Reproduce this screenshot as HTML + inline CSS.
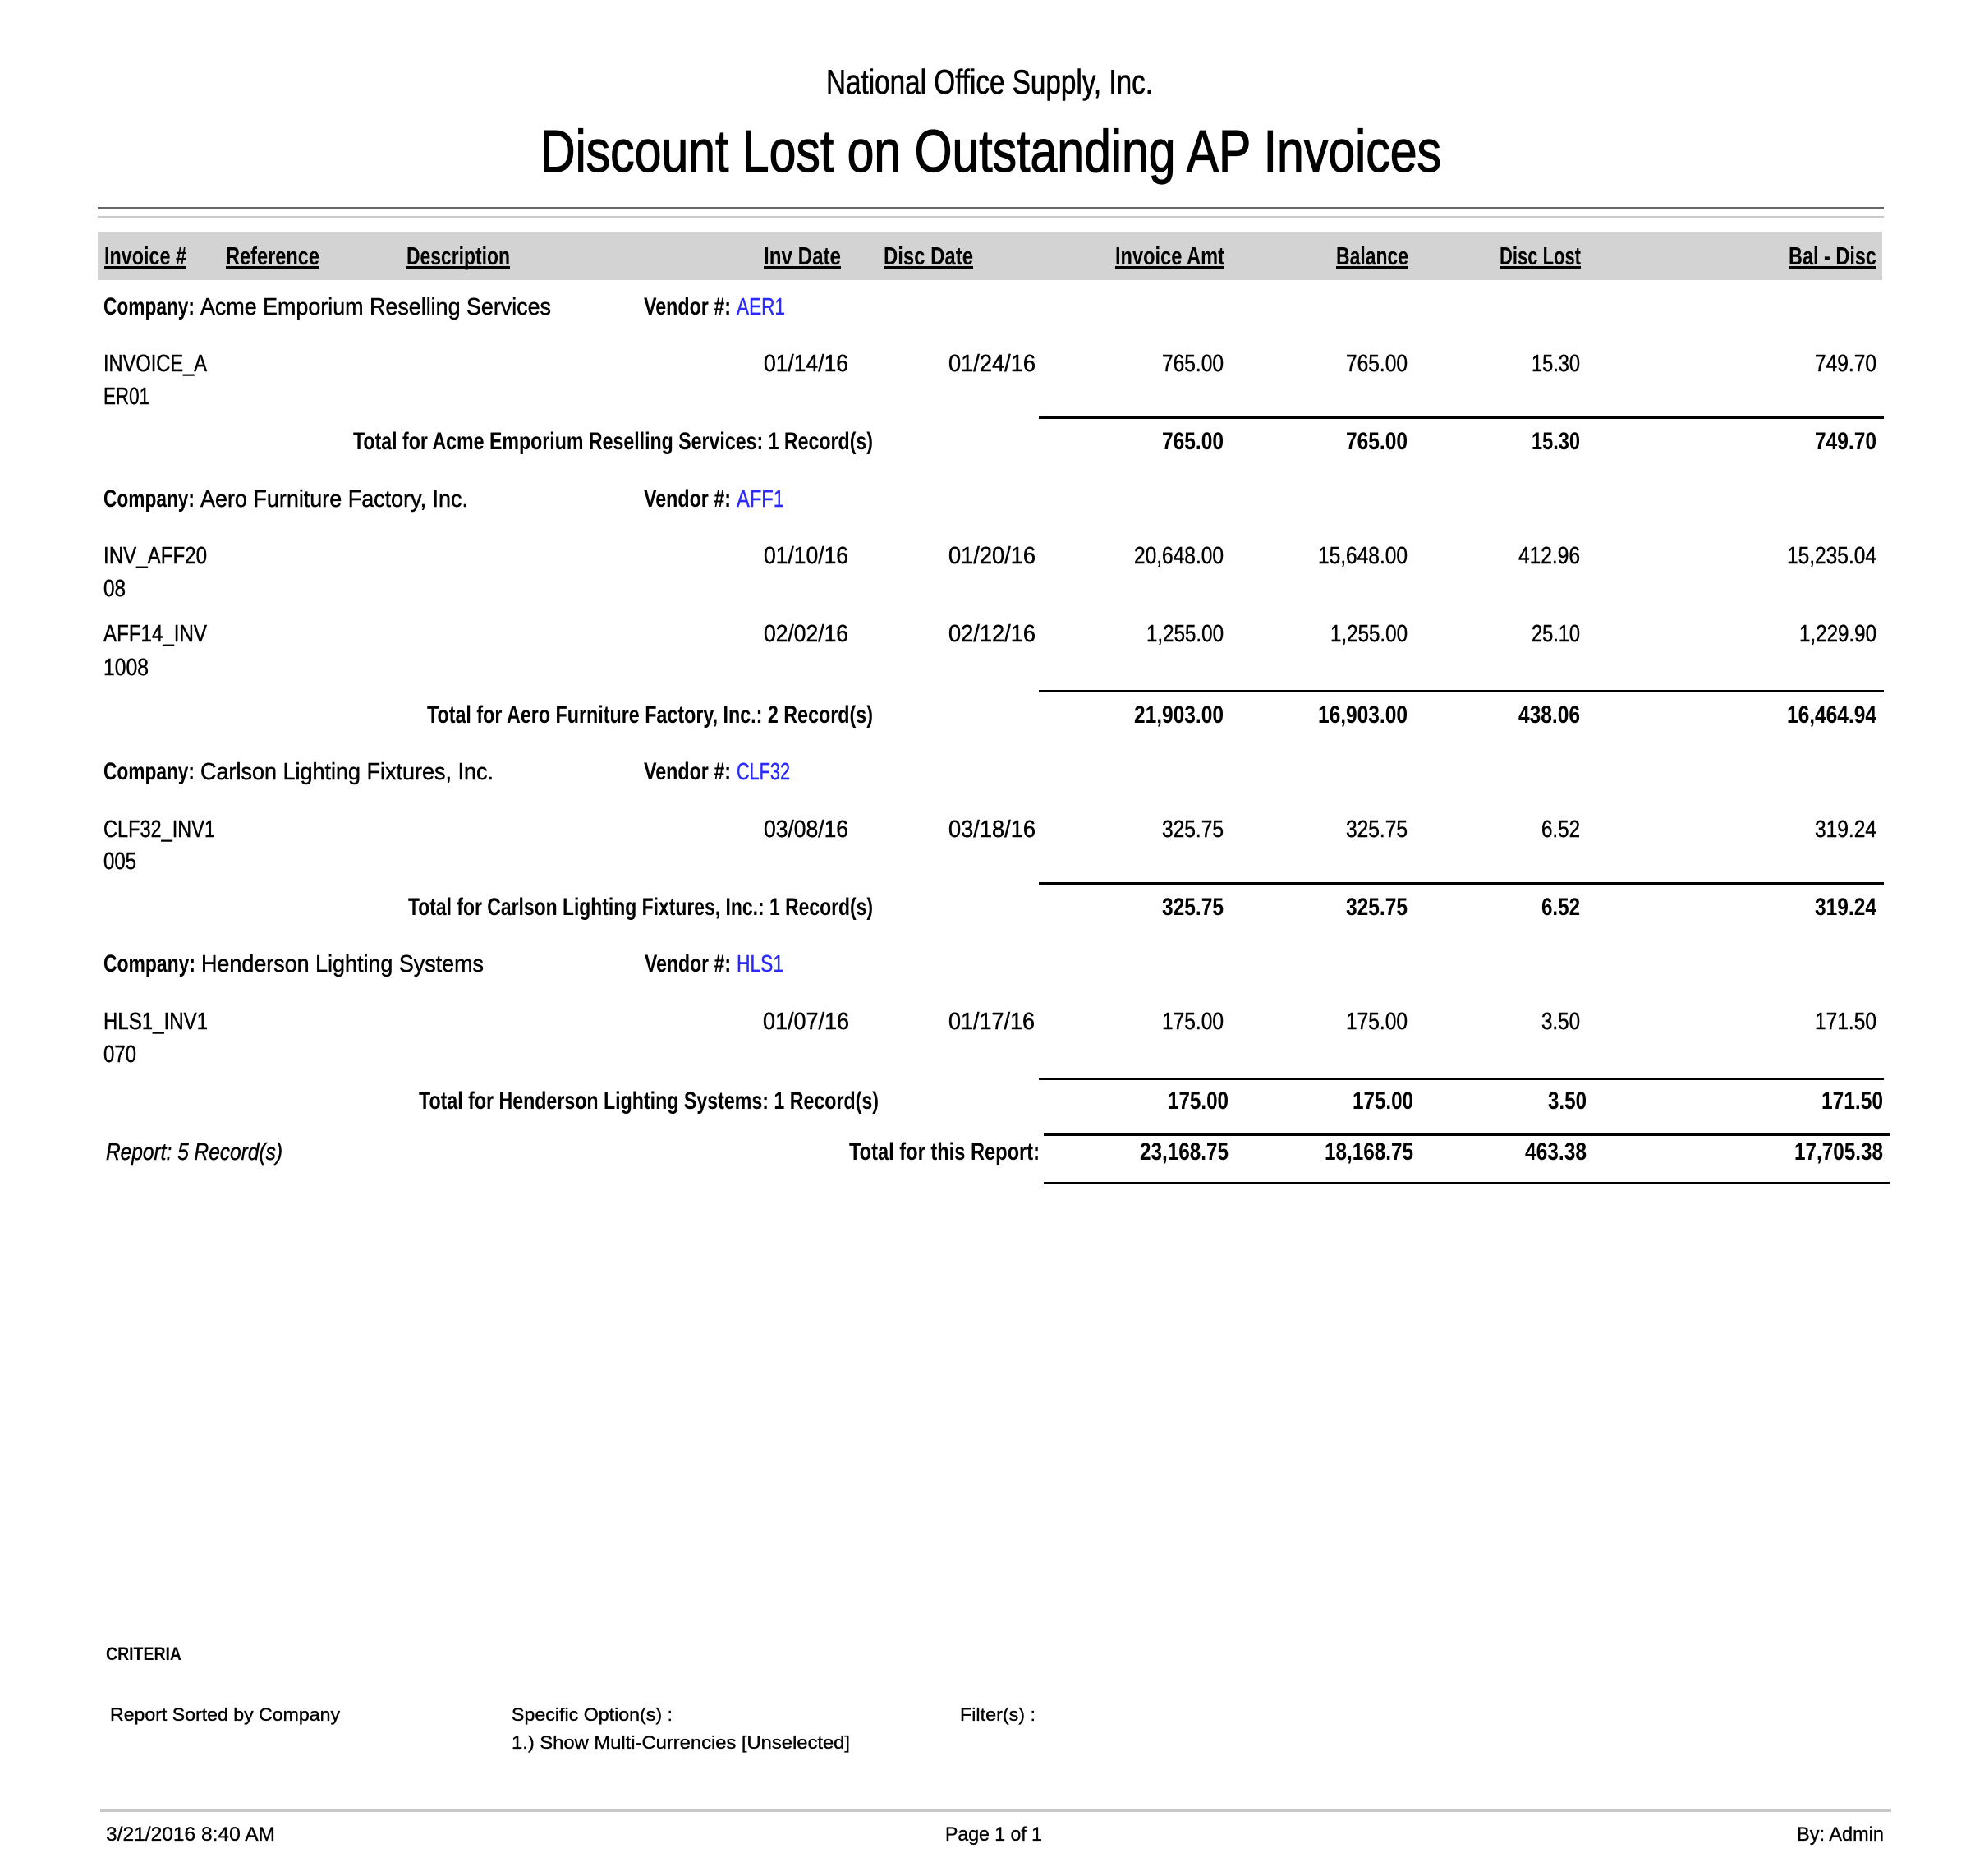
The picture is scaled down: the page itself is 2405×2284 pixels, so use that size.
<!DOCTYPE html>
<html>
<head>
<meta charset="utf-8">
<style>
  html,body{margin:0;padding:0;background:#fff;}
  svg{display:block;}
  text{font-family:"Liberation Sans",Arial,sans-serif;fill:#000;}
  .r{font-size:29px;stroke:#000;stroke-width:0.45px;}
  .b{font-size:30px;font-weight:bold;}
  .h{font-size:31px;font-weight:bold;}
  .v{font-size:29px;fill:#2a2aff;stroke:#2a2aff;stroke-width:0.45px;}
  .f{font-size:22px;stroke:#000;stroke-width:0.35px;}
  .fb{font-size:22px;font-weight:bold;}
  .ft{font-size:24px;stroke:#000;stroke-width:0.35px;}
  .t1{font-size:42px;stroke:#000;stroke-width:0.6px;}
  .t2{font-size:72px;stroke:#000;stroke-width:1.2px;}
</style>
</head>
<body>
<svg width="2405" height="2284" viewBox="0 0 2405 2284" xmlns="http://www.w3.org/2000/svg">
  <rect x="0" y="0" width="2405" height="2284" fill="#fff"/>

  <!-- Titles -->
  <text class="t1" x="1006" y="114" textLength="398" lengthAdjust="spacingAndGlyphs">National Office Supply, Inc.</text>
  <text class="t2" x="658" y="209" textLength="1097" lengthAdjust="spacingAndGlyphs">Discount Lost on Outstanding AP Invoices</text>

  <!-- Rules -->
  <rect x="119" y="252" width="2175" height="3" fill="#666"/>
  <rect x="119" y="263" width="2175" height="3" fill="#cacaca"/>

  <!-- Header band -->
  <rect x="119" y="282" width="2173" height="59" fill="#d3d3d3"/>
  <g class="h">
    <text class="h" x="127" y="322" textLength="100" lengthAdjust="spacingAndGlyphs">Invoice #</text>
    <text class="h" x="275" y="322" textLength="114" lengthAdjust="spacingAndGlyphs">Reference</text>
    <text class="h" x="495" y="322" textLength="126" lengthAdjust="spacingAndGlyphs">Description</text>
    <text class="h" x="930" y="322" textLength="94" lengthAdjust="spacingAndGlyphs">Inv Date</text>
    <text class="h" x="1076" y="322" textLength="109" lengthAdjust="spacingAndGlyphs">Disc Date</text>
    <text class="h" x="1358" y="322" textLength="133" lengthAdjust="spacingAndGlyphs">Invoice Amt</text>
    <text class="h" x="1627" y="322" textLength="88" lengthAdjust="spacingAndGlyphs">Balance</text>
    <text class="h" x="1826" y="322" textLength="99" lengthAdjust="spacingAndGlyphs">Disc Lost</text>
    <text class="h" x="2178" y="322" textLength="107" lengthAdjust="spacingAndGlyphs">Bal - Disc</text>
  </g>
  <g fill="#000">
    <rect x="127" y="324" width="100" height="3"/>
    <rect x="275" y="324" width="114" height="3"/>
    <rect x="495" y="324" width="126" height="3"/>
    <rect x="930" y="324" width="94" height="3"/>
    <rect x="1076" y="324" width="109" height="3"/>
    <rect x="1358" y="324" width="133" height="3"/>
    <rect x="1627" y="324" width="88" height="3"/>
    <rect x="1826" y="324" width="99" height="3"/>
    <rect x="2178" y="324" width="107" height="3"/>
  </g>

  <!-- ===== Acme ===== -->
  <text class="b" x="126" y="383" textLength="111" lengthAdjust="spacingAndGlyphs">Company:</text>
  <text class="r" x="244" y="383" textLength="427" lengthAdjust="spacingAndGlyphs">Acme Emporium Reselling Services</text>
  <text class="b" x="784" y="383" textLength="106" lengthAdjust="spacingAndGlyphs">Vendor #:</text>
  <text class="v" x="897" y="383" textLength="59" lengthAdjust="spacingAndGlyphs">AER1</text>

  <text class="r" x="126" y="452" textLength="126" lengthAdjust="spacingAndGlyphs">INVOICE_A</text>
  <text class="r" x="126" y="492" textLength="56" lengthAdjust="spacingAndGlyphs">ER01</text>
  <text class="r" x="930" y="452" textLength="103" lengthAdjust="spacingAndGlyphs">01/14/16</text>
  <text class="r" x="1155" y="452" textLength="106" lengthAdjust="spacingAndGlyphs">01/24/16</text>
  <g text-anchor="end">
    <text class="r" x="1490" y="452" textLength="75" lengthAdjust="spacingAndGlyphs">765.00</text>
    <text class="r" x="1714" y="452" textLength="75" lengthAdjust="spacingAndGlyphs">765.00</text>
    <text class="r" x="1924" y="452" textLength="59" lengthAdjust="spacingAndGlyphs">15.30</text>
    <text class="r" x="2285" y="452" textLength="75" lengthAdjust="spacingAndGlyphs">749.70</text>
  </g>
  <rect x="1265" y="507" width="1029" height="3" fill="#000"/>
  <text class="b" x="430" y="547" textLength="633" lengthAdjust="spacingAndGlyphs">Total for Acme Emporium Reselling Services: 1 Record(s)</text>
  <g text-anchor="end">
    <text class="b" x="1490" y="547" textLength="75" lengthAdjust="spacingAndGlyphs">765.00</text>
    <text class="b" x="1714" y="547" textLength="75" lengthAdjust="spacingAndGlyphs">765.00</text>
    <text class="b" x="1924" y="547" textLength="59" lengthAdjust="spacingAndGlyphs">15.30</text>
    <text class="b" x="2285" y="547" textLength="75" lengthAdjust="spacingAndGlyphs">749.70</text>
  </g>

  <!-- ===== Aero ===== -->
  <text class="b" x="126" y="617" textLength="111" lengthAdjust="spacingAndGlyphs">Company:</text>
  <text class="r" x="244" y="617" textLength="326" lengthAdjust="spacingAndGlyphs">Aero Furniture Factory, Inc.</text>
  <text class="b" x="784" y="617" textLength="106" lengthAdjust="spacingAndGlyphs">Vendor #:</text>
  <text class="v" x="897" y="617" textLength="58" lengthAdjust="spacingAndGlyphs">AFF1</text>

  <text class="r" x="126" y="686" textLength="126" lengthAdjust="spacingAndGlyphs">INV_AFF20</text>
  <text class="r" x="126" y="726" textLength="27" lengthAdjust="spacingAndGlyphs">08</text>
  <text class="r" x="930" y="686" textLength="103" lengthAdjust="spacingAndGlyphs">01/10/16</text>
  <text class="r" x="1155" y="686" textLength="106" lengthAdjust="spacingAndGlyphs">01/20/16</text>
  <g text-anchor="end">
    <text class="r" x="1490" y="686" textLength="109" lengthAdjust="spacingAndGlyphs">20,648.00</text>
    <text class="r" x="1714" y="686" textLength="109" lengthAdjust="spacingAndGlyphs">15,648.00</text>
    <text class="r" x="1924" y="686" textLength="75" lengthAdjust="spacingAndGlyphs">412.96</text>
    <text class="r" x="2285" y="686" textLength="109" lengthAdjust="spacingAndGlyphs">15,235.04</text>
  </g>

  <text class="r" x="126" y="781" textLength="126" lengthAdjust="spacingAndGlyphs">AFF14_INV</text>
  <text class="r" x="126" y="822" textLength="55" lengthAdjust="spacingAndGlyphs">1008</text>
  <text class="r" x="930" y="781" textLength="103" lengthAdjust="spacingAndGlyphs">02/02/16</text>
  <text class="r" x="1155" y="781" textLength="106" lengthAdjust="spacingAndGlyphs">02/12/16</text>
  <g text-anchor="end">
    <text class="r" x="1490" y="781" textLength="94" lengthAdjust="spacingAndGlyphs">1,255.00</text>
    <text class="r" x="1714" y="781" textLength="94" lengthAdjust="spacingAndGlyphs">1,255.00</text>
    <text class="r" x="1924" y="781" textLength="59" lengthAdjust="spacingAndGlyphs">25.10</text>
    <text class="r" x="2285" y="781" textLength="94" lengthAdjust="spacingAndGlyphs">1,229.90</text>
  </g>
  <rect x="1265" y="840" width="1029" height="3" fill="#000"/>
  <text class="b" x="520" y="880" textLength="543" lengthAdjust="spacingAndGlyphs">Total for Aero Furniture Factory, Inc.: 2 Record(s)</text>
  <g text-anchor="end">
    <text class="b" x="1490" y="880" textLength="109" lengthAdjust="spacingAndGlyphs">21,903.00</text>
    <text class="b" x="1714" y="880" textLength="109" lengthAdjust="spacingAndGlyphs">16,903.00</text>
    <text class="b" x="1924" y="880" textLength="75" lengthAdjust="spacingAndGlyphs">438.06</text>
    <text class="b" x="2285" y="880" textLength="109" lengthAdjust="spacingAndGlyphs">16,464.94</text>
  </g>

  <!-- ===== Carlson ===== -->
  <text class="b" x="126" y="949" textLength="111" lengthAdjust="spacingAndGlyphs">Company:</text>
  <text class="r" x="244" y="949" textLength="357" lengthAdjust="spacingAndGlyphs">Carlson Lighting Fixtures, Inc.</text>
  <text class="b" x="784" y="949" textLength="106" lengthAdjust="spacingAndGlyphs">Vendor #:</text>
  <text class="v" x="897" y="949" textLength="65" lengthAdjust="spacingAndGlyphs">CLF32</text>

  <text class="r" x="126" y="1019" textLength="136" lengthAdjust="spacingAndGlyphs">CLF32_INV1</text>
  <text class="r" x="126" y="1058" textLength="40" lengthAdjust="spacingAndGlyphs">005</text>
  <text class="r" x="930" y="1019" textLength="103" lengthAdjust="spacingAndGlyphs">03/08/16</text>
  <text class="r" x="1155" y="1019" textLength="106" lengthAdjust="spacingAndGlyphs">03/18/16</text>
  <g text-anchor="end">
    <text class="r" x="1490" y="1019" textLength="75" lengthAdjust="spacingAndGlyphs">325.75</text>
    <text class="r" x="1714" y="1019" textLength="75" lengthAdjust="spacingAndGlyphs">325.75</text>
    <text class="r" x="1924" y="1019" textLength="47" lengthAdjust="spacingAndGlyphs">6.52</text>
    <text class="r" x="2285" y="1019" textLength="75" lengthAdjust="spacingAndGlyphs">319.24</text>
  </g>
  <rect x="1265" y="1074" width="1029" height="3" fill="#000"/>
  <text class="b" x="497" y="1114" textLength="566" lengthAdjust="spacingAndGlyphs">Total for Carlson Lighting Fixtures, Inc.: 1 Record(s)</text>
  <g text-anchor="end">
    <text class="b" x="1490" y="1114" textLength="75" lengthAdjust="spacingAndGlyphs">325.75</text>
    <text class="b" x="1714" y="1114" textLength="75" lengthAdjust="spacingAndGlyphs">325.75</text>
    <text class="b" x="1924" y="1114" textLength="47" lengthAdjust="spacingAndGlyphs">6.52</text>
    <text class="b" x="2285" y="1114" textLength="75" lengthAdjust="spacingAndGlyphs">319.24</text>
  </g>

  <!-- ===== Henderson ===== -->
  <text class="b" x="126" y="1183" textLength="112" lengthAdjust="spacingAndGlyphs">Company:</text>
  <text class="r" x="245" y="1183" textLength="344" lengthAdjust="spacingAndGlyphs">Henderson Lighting Systems</text>
  <text class="b" x="785" y="1183" textLength="105" lengthAdjust="spacingAndGlyphs">Vendor #:</text>
  <text class="v" x="897" y="1183" textLength="57" lengthAdjust="spacingAndGlyphs">HLS1</text>

  <text class="r" x="126" y="1253" textLength="127" lengthAdjust="spacingAndGlyphs">HLS1_INV1</text>
  <text class="r" x="126" y="1293" textLength="40" lengthAdjust="spacingAndGlyphs">070</text>
  <text class="r" x="929" y="1253" textLength="105" lengthAdjust="spacingAndGlyphs">01/07/16</text>
  <text class="r" x="1155" y="1253" textLength="105" lengthAdjust="spacingAndGlyphs">01/17/16</text>
  <g text-anchor="end">
    <text class="r" x="1490" y="1253" textLength="75" lengthAdjust="spacingAndGlyphs">175.00</text>
    <text class="r" x="1714" y="1253" textLength="75" lengthAdjust="spacingAndGlyphs">175.00</text>
    <text class="r" x="1924" y="1253" textLength="47" lengthAdjust="spacingAndGlyphs">3.50</text>
    <text class="r" x="2285" y="1253" textLength="75" lengthAdjust="spacingAndGlyphs">171.50</text>
  </g>
  <rect x="1265" y="1312" width="1029" height="3" fill="#000"/>
  <text class="b" x="510" y="1350" textLength="560" lengthAdjust="spacingAndGlyphs">Total for Henderson Lighting Systems: 1 Record(s)</text>
  <g text-anchor="end">
    <text class="b" x="1496" y="1350" textLength="74" lengthAdjust="spacingAndGlyphs">175.00</text>
    <text class="b" x="1721" y="1350" textLength="74" lengthAdjust="spacingAndGlyphs">175.00</text>
    <text class="b" x="1932" y="1350" textLength="47" lengthAdjust="spacingAndGlyphs">3.50</text>
    <text class="b" x="2293" y="1350" textLength="75" lengthAdjust="spacingAndGlyphs">171.50</text>
  </g>

  <!-- ===== Report totals ===== -->
  <rect x="1271" y="1380" width="1030" height="3" fill="#000"/>
  <text class="r" x="129" y="1412" font-style="italic" textLength="215" lengthAdjust="spacingAndGlyphs">Report: 5 Record(s)</text>
  <text class="b" x="1034" y="1412" textLength="232" lengthAdjust="spacingAndGlyphs">Total for this Report:</text>
  <g text-anchor="end">
    <text class="b" x="1496" y="1412" textLength="108" lengthAdjust="spacingAndGlyphs">23,168.75</text>
    <text class="b" x="1721" y="1412" textLength="108" lengthAdjust="spacingAndGlyphs">18,168.75</text>
    <text class="b" x="1932" y="1412" textLength="75" lengthAdjust="spacingAndGlyphs">463.38</text>
    <text class="b" x="2293" y="1412" textLength="108" lengthAdjust="spacingAndGlyphs">17,705.38</text>
  </g>
  <rect x="1271" y="1439" width="1030" height="3" fill="#000"/>

  <!-- ===== Criteria ===== -->
  <text class="fb" x="129" y="2021" textLength="92" lengthAdjust="spacingAndGlyphs">CRITERIA</text>
  <text class="f" x="134" y="2095" textLength="280" lengthAdjust="spacingAndGlyphs">Report Sorted by Company</text>
  <text class="f" x="623" y="2095" textLength="196" lengthAdjust="spacingAndGlyphs">Specific Option(s) :</text>
  <text class="f" x="623" y="2129" textLength="412" lengthAdjust="spacingAndGlyphs">1.) Show Multi-Currencies [Unselected]</text>
  <text class="f" x="1169" y="2095" textLength="92" lengthAdjust="spacingAndGlyphs">Filter(s) :</text>

  <!-- ===== Footer ===== -->
  <rect x="122" y="2202" width="2181" height="4" fill="#c8c8c8"/>
  <text class="ft" x="129" y="2241" textLength="206" lengthAdjust="spacingAndGlyphs">3/21/2016 8:40 AM</text>
  <text class="ft" x="1151" y="2241" textLength="118" lengthAdjust="spacingAndGlyphs">Page 1 of 1</text>
  <text class="ft" x="2188" y="2241" textLength="106" lengthAdjust="spacingAndGlyphs">By: Admin</text>
</svg>
</body>
</html>
